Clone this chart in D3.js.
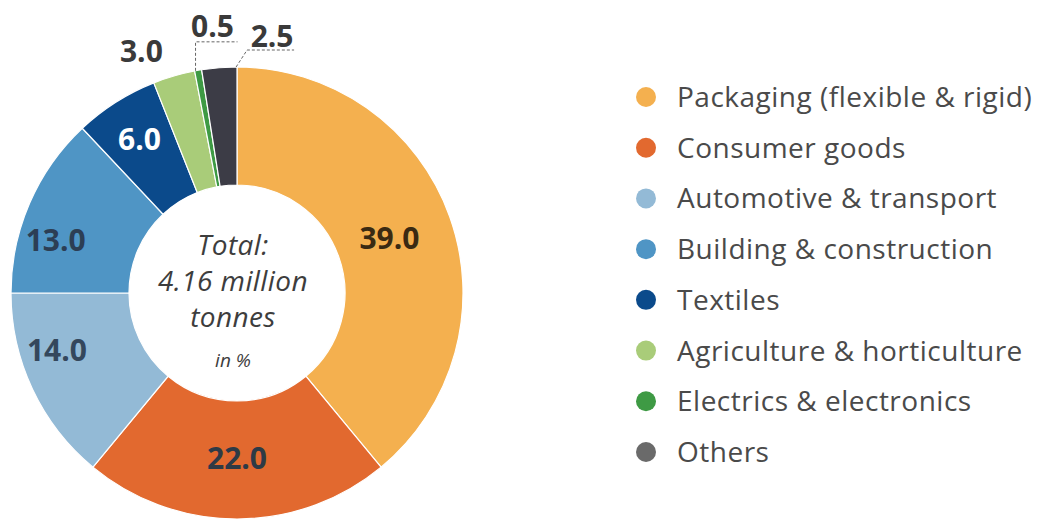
<!DOCTYPE html>
<html>
<head>
<meta charset="utf-8">
<script src="https://cdn.jsdelivr.net/npm/d3@7"></script>
<style>
  html, body { margin: 0; padding: 0; background: #ffffff; }
  svg { display: block; }
</style>
</head>
<body>
<svg id="chart" width="1043" height="520"></svg>
<script>
// Plastics demand by application, share of total (%)
const categories = [
  "Packaging (flexible & rigid)",
  "Consumer goods",
  "Automotive & transport",
  "Building & construction",
  "Textiles",
  "Agriculture & horticulture",
  "Electrics & electronics",
  "Others"
];
const shares = [39.0, 22.0, 14.0, 13.0, 6.0, 3.0, 0.5, 2.5];
const sliceColors = ["#f4b04f", "#e2692f", "#93bad6", "#4f95c5", "#0b4a8b", "#a9cc79", "#3e9a44", "#3c3c46"];
const legendColors = ["#f4b04f", "#e2692f", "#93bad6", "#4f95c5", "#0b4a8b", "#a9cc79", "#3e9a44", "#6a6a6a"];
const labelColors = ["#3a2a12", "#2e3a46", "#34475c", "#2c3e54", "#ffffff", "#3a3a3a", "#3a3a3a", "#3a3a3a"];
// slices whose value sits outside the ring
const outsideLabels = ["Agriculture & horticulture", "Electrics & electronics", "Others"];
const centreLines = ["Total:", "4.16 million", "tonnes"];
const unitNote = "in %";

const svg = d3.select("#chart");
const cx = 237, cy = 293;
const outerR = 226, innerR = 108;

const data = categories.map((c, i) => ({
  name: c, value: shares[i], color: sliceColors[i], key: legendColors[i], labelColor: labelColors[i]
}));

const pie = d3.pie().value(d => d.value).sort(null);
const arcs = pie(data);
const arc = d3.arc().innerRadius(innerR).outerRadius(outerR);

const g = svg.append("g").attr("transform", `translate(${cx},${cy})`);

g.selectAll("path.slice")
  .data(arcs)
  .join("path")
  .attr("class", "slice")
  .attr("d", arc)
  .attr("fill", d => d.data.color)
  .attr("stroke", "#ffffff")
  .attr("stroke-width", 1.2);

const numFmt = d3.format(".1f");
const valueFont = "'Open Sans', 'Noto Sans', sans-serif";

// label radius and pull toward the horizontal for the narrow side slices
const labelPlace = {
  "Packaging (flexible & rigid)": { r: 162, pull: 0 },
  "Consumer goods": { r: 165, pull: 0 },
  "Automotive & transport": { r: 189, pull: 0.3 },
  "Building & construction": { r: 189, pull: 0.3 },
  "Textiles": { r: 182, pull: 0 }
};
const polar = (angle, r) => [r * Math.sin(angle), -r * Math.cos(angle)];

// in-ring value labels
g.selectAll("text.value")
  .data(arcs.filter(d => !outsideLabels.includes(d.data.name)))
  .join("text")
  .attr("class", "value")
  .attr("transform", d => {
    const p = labelPlace[d.data.name];
    let a = (d.startAngle + d.endAngle) / 2;
    a = a + (1.5 * Math.PI - a) * p.pull;
    const [x, y] = polar(a, p.r);
    return `translate(${x},${y})`;
  })
  .attr("text-anchor", "middle")
  .attr("dy", "0.36em")
  .attr("font-family", valueFont)
  .attr("font-weight", 700)
  .attr("font-size", 30)
  .attr("fill", d => d.data.labelColor)
  .text(d => numFmt(d.data.value));

// outside labels with dashed leaders
const outer = arcs.filter(d => outsideLabels.includes(d.data.name));

outer.forEach(d => {
  const name = d.data.name;
  const mid = (d.startAngle + d.endAngle) / 2;
  let lx, ly;
  if (name === "Agriculture & horticulture") {
    const [x, y] = polar(mid, outerR + 20);
    lx = x - 27; ly = y + 5;
  } else if (name === "Electrics & electronics") {
    const [x0, y0] = polar(d.startAngle + 0.004, outerR);
    const topY = y0 - 29;
    g.append("path")
      .attr("d", `M${x0},${y0} V${topY} H${x0 + 42}`)
      .attr("fill", "none")
      .attr("stroke", "#666")
      .attr("stroke-width", 1)
      .attr("stroke-dasharray", "3,2");
    lx = x0 + 17; ly = topY - 5;
  } else {
    const [x0, y0] = polar(d.endAngle - 0.004, outerR);
    const kx = x0 + 11, ky = y0 - 17;
    g.append("path")
      .attr("d", `M${x0},${y0} L${kx},${ky} H${kx + 47}`)
      .attr("fill", "none")
      .attr("stroke", "#666")
      .attr("stroke-width", 1)
      .attr("stroke-dasharray", "3,2");
    lx = kx + 25; ly = ky - 3;
  }
  g.append("text")
    .attr("x", lx)
    .attr("y", ly)
    .attr("text-anchor", "middle")
    .attr("font-family", valueFont)
    .attr("font-weight", 700)
    .attr("font-size", 30)
    .attr("fill", d.data.labelColor)
    .text(numFmt(d.data.value));
});

// centre caption
const centre = svg.append("g").attr("transform", `translate(${cx - 4},${cy})`);
centre.selectAll("text.caption")
  .data(centreLines)
  .join("text")
  .attr("class", "caption")
  .attr("x", 0)
  .attr("y", (d, i) => -38 + i * 36)
  .attr("text-anchor", "middle")
  .attr("font-family", "'Open Sans', sans-serif")
  .attr("font-style", "italic")
  .attr("font-size", 28)
  .attr("letter-spacing", 0.4)
  .attr("fill", "#3d3d3d")
  .text(d => d);
centre.append("text")
  .attr("x", 0)
  .attr("y", 74)
  .attr("text-anchor", "middle")
  .attr("font-family", "'Open Sans', sans-serif")
  .attr("font-style", "italic")
  .attr("font-size", 19)
  .attr("fill", "#3d3d3d")
  .text(unitNote);

// legend
const legendY = d3.scalePoint().domain(categories).range([97, 452]);
const legend = svg.append("g").attr("class", "legend");
const rows = legend.selectAll("g.row")
  .data(data)
  .join("g")
  .attr("class", "row")
  .attr("transform", d => `translate(646,${legendY(d.name)})`);
rows.append("circle")
  .attr("r", 10)
  .attr("fill", d => d.key);
rows.append("text")
  .attr("x", 31)
  .attr("y", 10)
  .attr("font-family", "'Open Sans', sans-serif")
  .attr("font-size", 28)
  .attr("letter-spacing", 0.5)
  .attr("fill", "#4a4a4a")
  .text(d => d.name);
</script>
</body>
</html>
